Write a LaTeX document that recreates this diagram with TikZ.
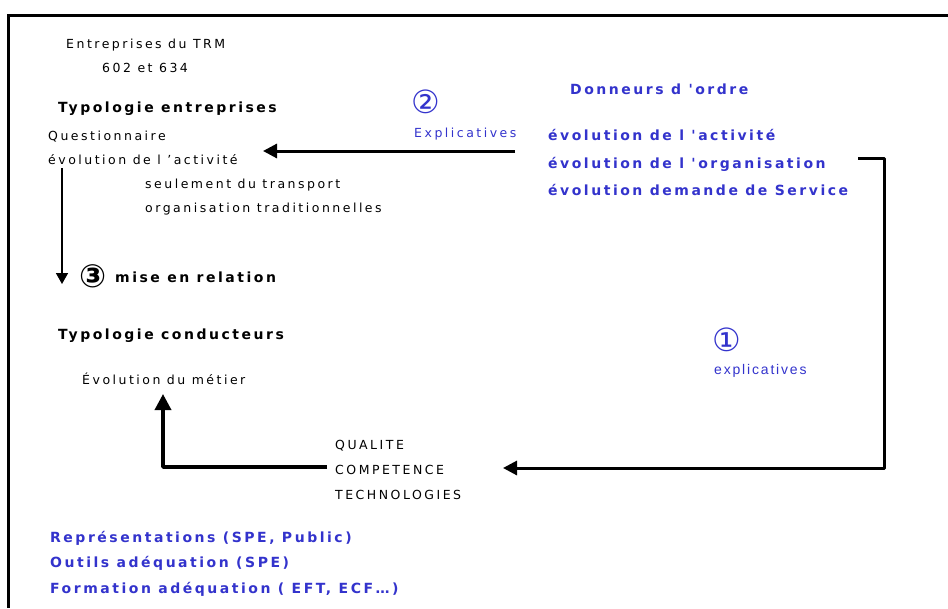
\documentclass[tikz,border=0pt]{standalone}
\usepackage{fontspec}
\setmainfont{DejaVu Sans}[LetterSpace=20]
\newfontfamily\boldspaced{DejaVu Sans}[LetterSpace=18]
\newfontfamily\symfont{DejaVu Sans}
\newfontfamily\arialfont{Liberation Sans}[LetterSpace=13]
\usetikzlibrary{arrows.meta}
\definecolor{dblue}{RGB}{51,51,204}
\begin{document}
\begin{tikzpicture}[x=1pt,y=-1pt,
  txt/.style={anchor=base west,inner sep=0pt,font=\fontsize{12.5}{14}\selectfont},
  btxt/.style={anchor=base west,inner sep=0pt,font=\fontsize{14}{16}\boldspaced\bfseries},
  bluetxt/.style={btxt,text=dblue},
  num/.style={anchor=center,inner sep=0pt,font=\fontsize{32}{34}\symfont},
  thick arrow/.style={line width=3pt,-{Triangle[length=14pt,width=14pt]}},
  thin arrow/.style={line width=1.6pt,-{Triangle[length=11pt,width=12pt]}}]
\useasboundingbox (0,0) rectangle (948,608);
% frame
\draw[line width=3pt] (948,15) -- (8,15) -- (8,608);
% left column
\node[txt] (trm) at (66,48) {Entreprises du TRM};
\node[txt] (num) at (102,72) {602 et 634};
\node[btxt] (typent) at (58,112) {Typologie entreprises};
\node[txt] (quest) at (48,140) {Questionnaire};
\node[txt] (evact) at (48,164) {évolution de l 'activité};
\node[txt] (seul) at (145,188) {seulement du transport};
\node[txt] (orgtrad) at (145,212) {organisation traditionnelles};
\node[num,font=\fontsize{32}{34}\symfont\bfseries] (n3) at (93,276) {③};
\node[btxt] (mise) at (115,282) {mise en relation};
\node[btxt] (typcond) at (58,339) {Typologie conducteurs};
\node[txt] (evmet) at (82,384) {Évolution du métier};
% center bottom
\node[txt] (qual) at (335,449) {QUALITE};
\node[txt] (comp) at (335,474) {COMPETENCE};
\node[txt] (tech) at (335,499) {TECHNOLOGIES};
% top right
\node[num,text=dblue] (n2) at (426,102) {②};
\node[txt,text=dblue] (expl2) at (414,137) {Explicatives};
\node[bluetxt] (donn) at (570,94) {Donneurs d 'ordre};
\node[bluetxt] (d1) at (548,140) {évolution de l 'activité};
\node[bluetxt] (d2) at (548,168) {évolution de l 'organisation};
\node[bluetxt] (d3) at (548,195) {évolution demande de Service};
% right middle
\node[num,text=dblue] (n1) at (727,340) {①};
\node[anchor=base west,inner sep=0pt,text=dblue,font=\fontsize{14}{16}\arialfont] (expl1) at (714,374) {explicatives};
% bottom blue
\node[bluetxt] (rep) at (50,542) {Représentations (SPE, Public)};
\node[bluetxt] (out) at (50,567) {Outils adéquation (SPE)};
\node[bluetxt] (form) at (50,593) {Formation adéquation ( EFT, ECF…)};
% connectors
\coordinate (a2s) at (515,151);
\coordinate (a2e) at (263,151);
\draw[thick arrow] (a2s) -- (a2e);
\coordinate (a3s) at (62,168);
\coordinate (a3e) at (62,284);
\draw[thin arrow] (a3s) -- (a3e);
\coordinate (a1s) at (858,158);
\coordinate (a1c) at (884,158);
\coordinate (a1d) at (884,468);
\coordinate (a1e) at (503,468);
\draw[thick arrow,line join=round] (a1s) -- (a1c) -- (a1d) -- (a1e);
\coordinate (a4s) at (327,467);
\coordinate (a4c) at (163,467);
\coordinate (a4e) at (163,394);
\draw[thick arrow,line join=round,-{Triangle[length=16pt,width=16pt]},line width=3.5pt] (a4s) -- (a4c) -- (a4e);
\end{tikzpicture}
\end{document}
